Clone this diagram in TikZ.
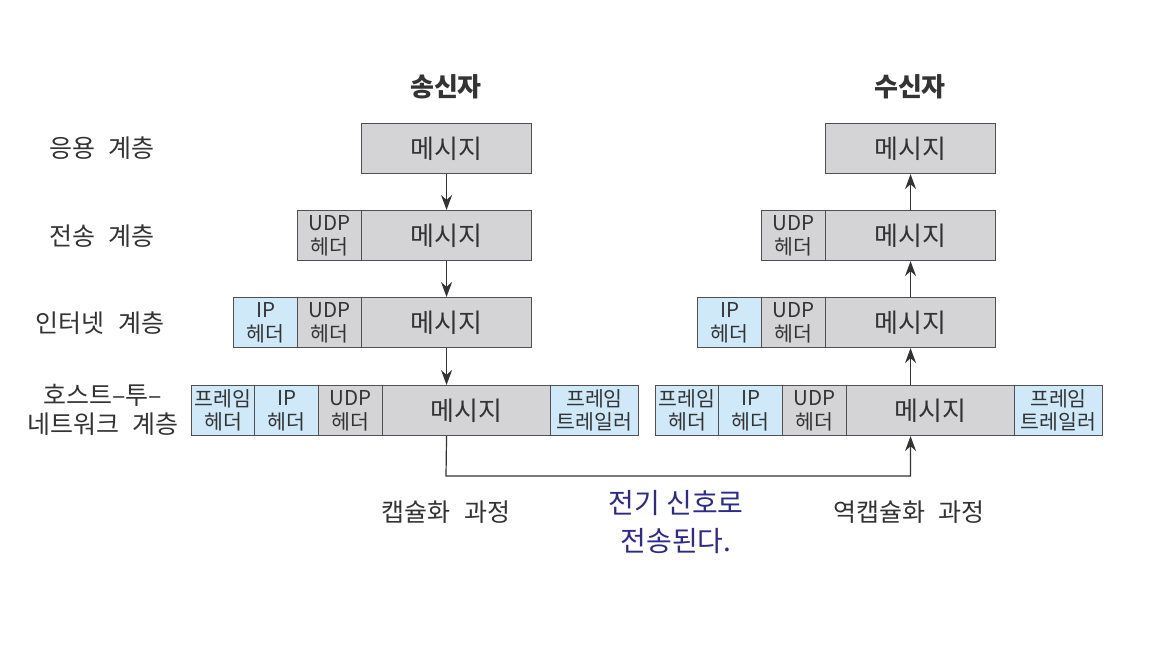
\documentclass[tikz,border=0pt]{standalone}
\usepackage{fontspec}
\setmainfont{Noto Sans CJK KR}
\usetikzlibrary{arrows.meta}

\definecolor{msggray}{HTML}{D4D4D6}
\definecolor{hdrblue}{HTML}{CFE9F9}
\definecolor{boxline}{HTML}{505050}
\definecolor{txtgray}{HTML}{333333}
\definecolor{sigblue}{HTML}{2E2A8C}

\newcommand{\gap}{\hspace{0.55em}}

\tikzset{
  cell/.style={draw=boxline, line width=1.1pt, inner sep=0pt, anchor=north west,
    minimum height=50pt, text=txtgray, align=center},
  msg/.style={cell, fill=msggray, font=\fontsize{26}{30}\selectfont},
  hdr/.style={cell, font=\fontsize{20.5}{23.5}\selectfont},
  udp/.style={hdr, fill=msggray},
  blu/.style={hdr, fill=hdrblue},
  layer/.style={text=txtgray, font=\fontsize{25}{29}\selectfont, align=center},
  flow/.style={draw=txtgray, line width=1.2pt, -{Stealth[length=15pt,width=11pt]}}
}

\begin{document}
\begin{tikzpicture}[x=1pt,y=-1pt]

    \useasboundingbox[fill=white] (0,0) rectangle (1168,650);

    % column titles
    \node[layer, font=\fontsize{26}{30}\selectfont\bfseries] (snd) at (446,87) {송신자};
    \node[layer, font=\fontsize{26}{30}\selectfont\bfseries] (rcv) at (910,87) {수신자};

    % layer names
    \node[layer] (l1) at (102,148) {응용\gap 계층};
    \node[layer] (l2) at (102,236) {전송\gap 계층};
    \node[layer] (l3) at (100,323) {인터넷\gap 계층};
    \node[layer] (l4) at (103,410) {호스트–투–\\네트워크\gap 계층};

    % sender
    \node[msg, minimum width=170pt] (s1m) at (361,123) {메시지};

    \node[udp, minimum width=64pt] (s2u) at (297,210) {UDP\\헤더};
    \node[msg, minimum width=170pt] (s2m) at (361,210) {메시지};

    \node[blu, minimum width=64pt] (s3i) at (233,297) {IP\\헤더};
    \node[udp, minimum width=64pt] (s3u) at (297,297) {UDP\\헤더};
    \node[msg, minimum width=170pt] (s3m) at (361,297) {메시지};

    \node[blu, minimum width=63pt] (s4f) at (191,385) {프레임\\헤더};
    \node[blu, minimum width=64pt] (s4i) at (254,385) {IP\\헤더};
    \node[udp, minimum width=64pt] (s4u) at (318,385) {UDP\\헤더};
    \node[msg, minimum width=168pt] (s4m) at (382,385) {메시지};
    \node[blu, minimum width=88pt] (s4t) at (550,385) {프레임\\트레일러};

    % receiver
    \node[msg, minimum width=170pt] (r1m) at (825,123) {메시지};

    \node[udp, minimum width=64pt] (r2u) at (761,210) {UDP\\헤더};
    \node[msg, minimum width=170pt] (r2m) at (825,210) {메시지};

    \node[blu, minimum width=64pt] (r3i) at (697,297) {IP\\헤더};
    \node[udp, minimum width=64pt] (r3u) at (761,297) {UDP\\헤더};
    \node[msg, minimum width=170pt] (r3m) at (825,297) {메시지};

    \node[blu, minimum width=63pt] (r4f) at (655,385) {프레임\\헤더};
    \node[blu, minimum width=64pt] (r4i) at (718,385) {IP\\헤더};
    \node[udp, minimum width=64pt] (r4u) at (782,385) {UDP\\헤더};
    \node[msg, minimum width=168pt] (r4m) at (846,385) {메시지};
    \node[blu, minimum width=88pt] (r4t) at (1014,385) {프레임\\트레일러};

    % down the sender stack
    \draw[flow] (s1m.south) -- (s2m.north);
    \draw[flow] (s2m.south) -- (s3m.north);
    \draw[flow] (s3m.south) -- (s3m.south |- s4m.north);

    % up the receiver stack
    \draw[flow] (r3m.south |- r4m.north) -- (r3m.south);
    \draw[flow] (r3m.north) -- (r2m.south);
    \draw[flow] (r2m.north) -- (r1m.south);

    % physical link
    \coordinate (wire) at (446,476);
    \draw[flow] (s3m.south |- s4m.south) -- (wire) -| (r3m.south |- r4m.south);

    \node[layer] (enc) at (446,512) {캡슐화\gap 과정};
    \node[layer] (dec) at (909,512) {역캡슐화\gap 과정};
    \node[layer, text=sigblue, font=\fontsize{28}{38}\selectfont] (sig) at (676,522) {전기 신호로\\전송된다.};

\end{tikzpicture}
\end{document}
